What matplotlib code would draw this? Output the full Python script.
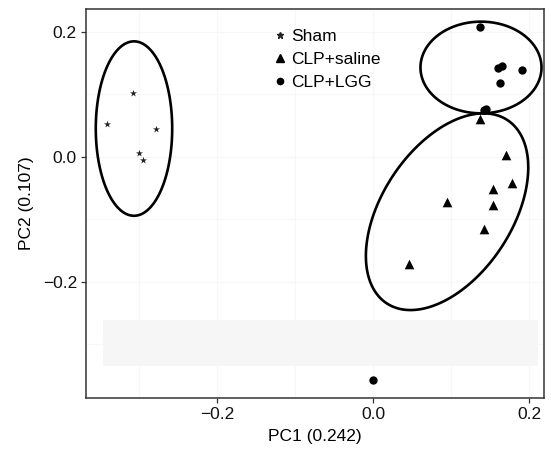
import numpy as np
import matplotlib
matplotlib.use("Agg")
import matplotlib.pyplot as plt
from matplotlib.lines import Line2D
from matplotlib.patches import Polygon

plt.rcParams['font.family'] = ['Liberation Sans', 'DejaVu Sans']

groups = ["Sham", "CLP+saline", "CLP+LGG"]
markers = ["*", "^", "o"]

sham_x = [-0.308, -0.341, -0.279, -0.300, -0.296]
sham_y = [0.102, 0.053, 0.044, 0.006, -0.005]

saline_x = [0.137, 0.170, 0.178, 0.154, 0.095, 0.154, 0.142, 0.046]
saline_y = [0.061, 0.002, -0.042, -0.052, -0.072, -0.077, -0.115, -0.172]

lgg_x = [0.1365, 0.160, 0.165, 0.190, 0.162, 0.142, 0.145, 0.0]
lgg_y = [0.207, 0.142, 0.145, 0.138, 0.118, 0.075, 0.077, -0.357]

# ellipses: center x, center y, half-width x, half-height y, correlation
ell_cx = [-0.307, 0.0945, 0.138]
ell_cy = [0.045, -0.088, 0.1427]
ell_hx = [0.049, 0.1041, 0.0776]
ell_hy = [0.1395, 0.1573, 0.0733]
ell_rho = [0.0, 0.45, 0.0]

xticks = [-0.2, 0.0, 0.2]
yticks = [-0.2, 0.0, 0.2]
xlabel = "PC1 (0.242)"
ylabel = "PC2 (0.107)"

fig = plt.figure(figsize=(5.51, 4.53), dpi=100)
ax = fig.add_axes([0.156, 0.1214, 0.831, 0.8581])
ax.set_xlim(-0.3686, 0.2186)
ax.set_ylim(-0.386, 0.2358)

# faint grid
for v in [-0.3, -0.2, -0.1, 0.0, 0.1, 0.2]:
    ax.axvline(v, color="#f7f7f7", lw=0.8, zorder=0)
for v in [-0.3, -0.2, -0.1, 0.0, 0.1, 0.2]:
    ax.axhline(v, color="#f7f7f7", lw=0.8, zorder=0)
ax.axhspan(-0.335, -0.261, xmin=0.037, xmax=0.987, color="#f6f6f6", lw=0, zorder=0)

ax.scatter(sham_x, sham_y, marker="*", s=28, color="#222222", zorder=3, linewidths=0)
ax.scatter(saline_x, saline_y, marker="^", s=48, color="black", zorder=3, linewidths=0)
ax.scatter(lgg_x, lgg_y, marker="o", s=36, color="black", zorder=3, linewidths=0)

t = np.linspace(0, 2 * np.pi, 400, endpoint=False)
for cx, cy, hx, hy, r in zip(ell_cx, ell_cy, ell_hx, ell_hy, ell_rho):
    ex = cx + hx * np.cos(t)
    ey = cy + hy * (r * np.cos(t) + np.sqrt(1 - r * r) * np.sin(t))
    ax.add_patch(Polygon(np.column_stack([ex, ey]), closed=True, fill=False,
                         edgecolor="black", lw=1.9, zorder=2))

ax.set_xticks(xticks)
ax.set_yticks(yticks)
ax.set_xticklabels(["\u22120.2", "0.0", "0.2"])
ax.set_yticklabels(["\u22120.2", "0.0", "0.2"])
ax.tick_params(axis="both", direction="out", length=3.5, width=0.9, color="#333333",
               labelsize=12.5, labelcolor="#111111", pad=3)
for s in ax.spines.values():
    s.set_color("#333333")
    s.set_linewidth(1.1)
ax.set_xlabel(xlabel, fontsize=12.5, labelpad=5)
ax.set_ylabel(ylabel, fontsize=12.5, labelpad=6)

handles = [
    Line2D([], [], marker="*", color="#222222", ls="", markersize=5),
    Line2D([], [], marker="^", color="black", ls="", markersize=6),
    Line2D([], [], marker="o", color="black", ls="", markersize=4.5),
]
ax.legend(handles, groups, loc="upper left", bbox_to_anchor=(0.398, 0.967), frameon=False,
          fontsize=12.5, handlelength=0.6, handletextpad=0.3, labelspacing=0.45,
          borderaxespad=0)

fig.savefig("out.png", dpi=100)
